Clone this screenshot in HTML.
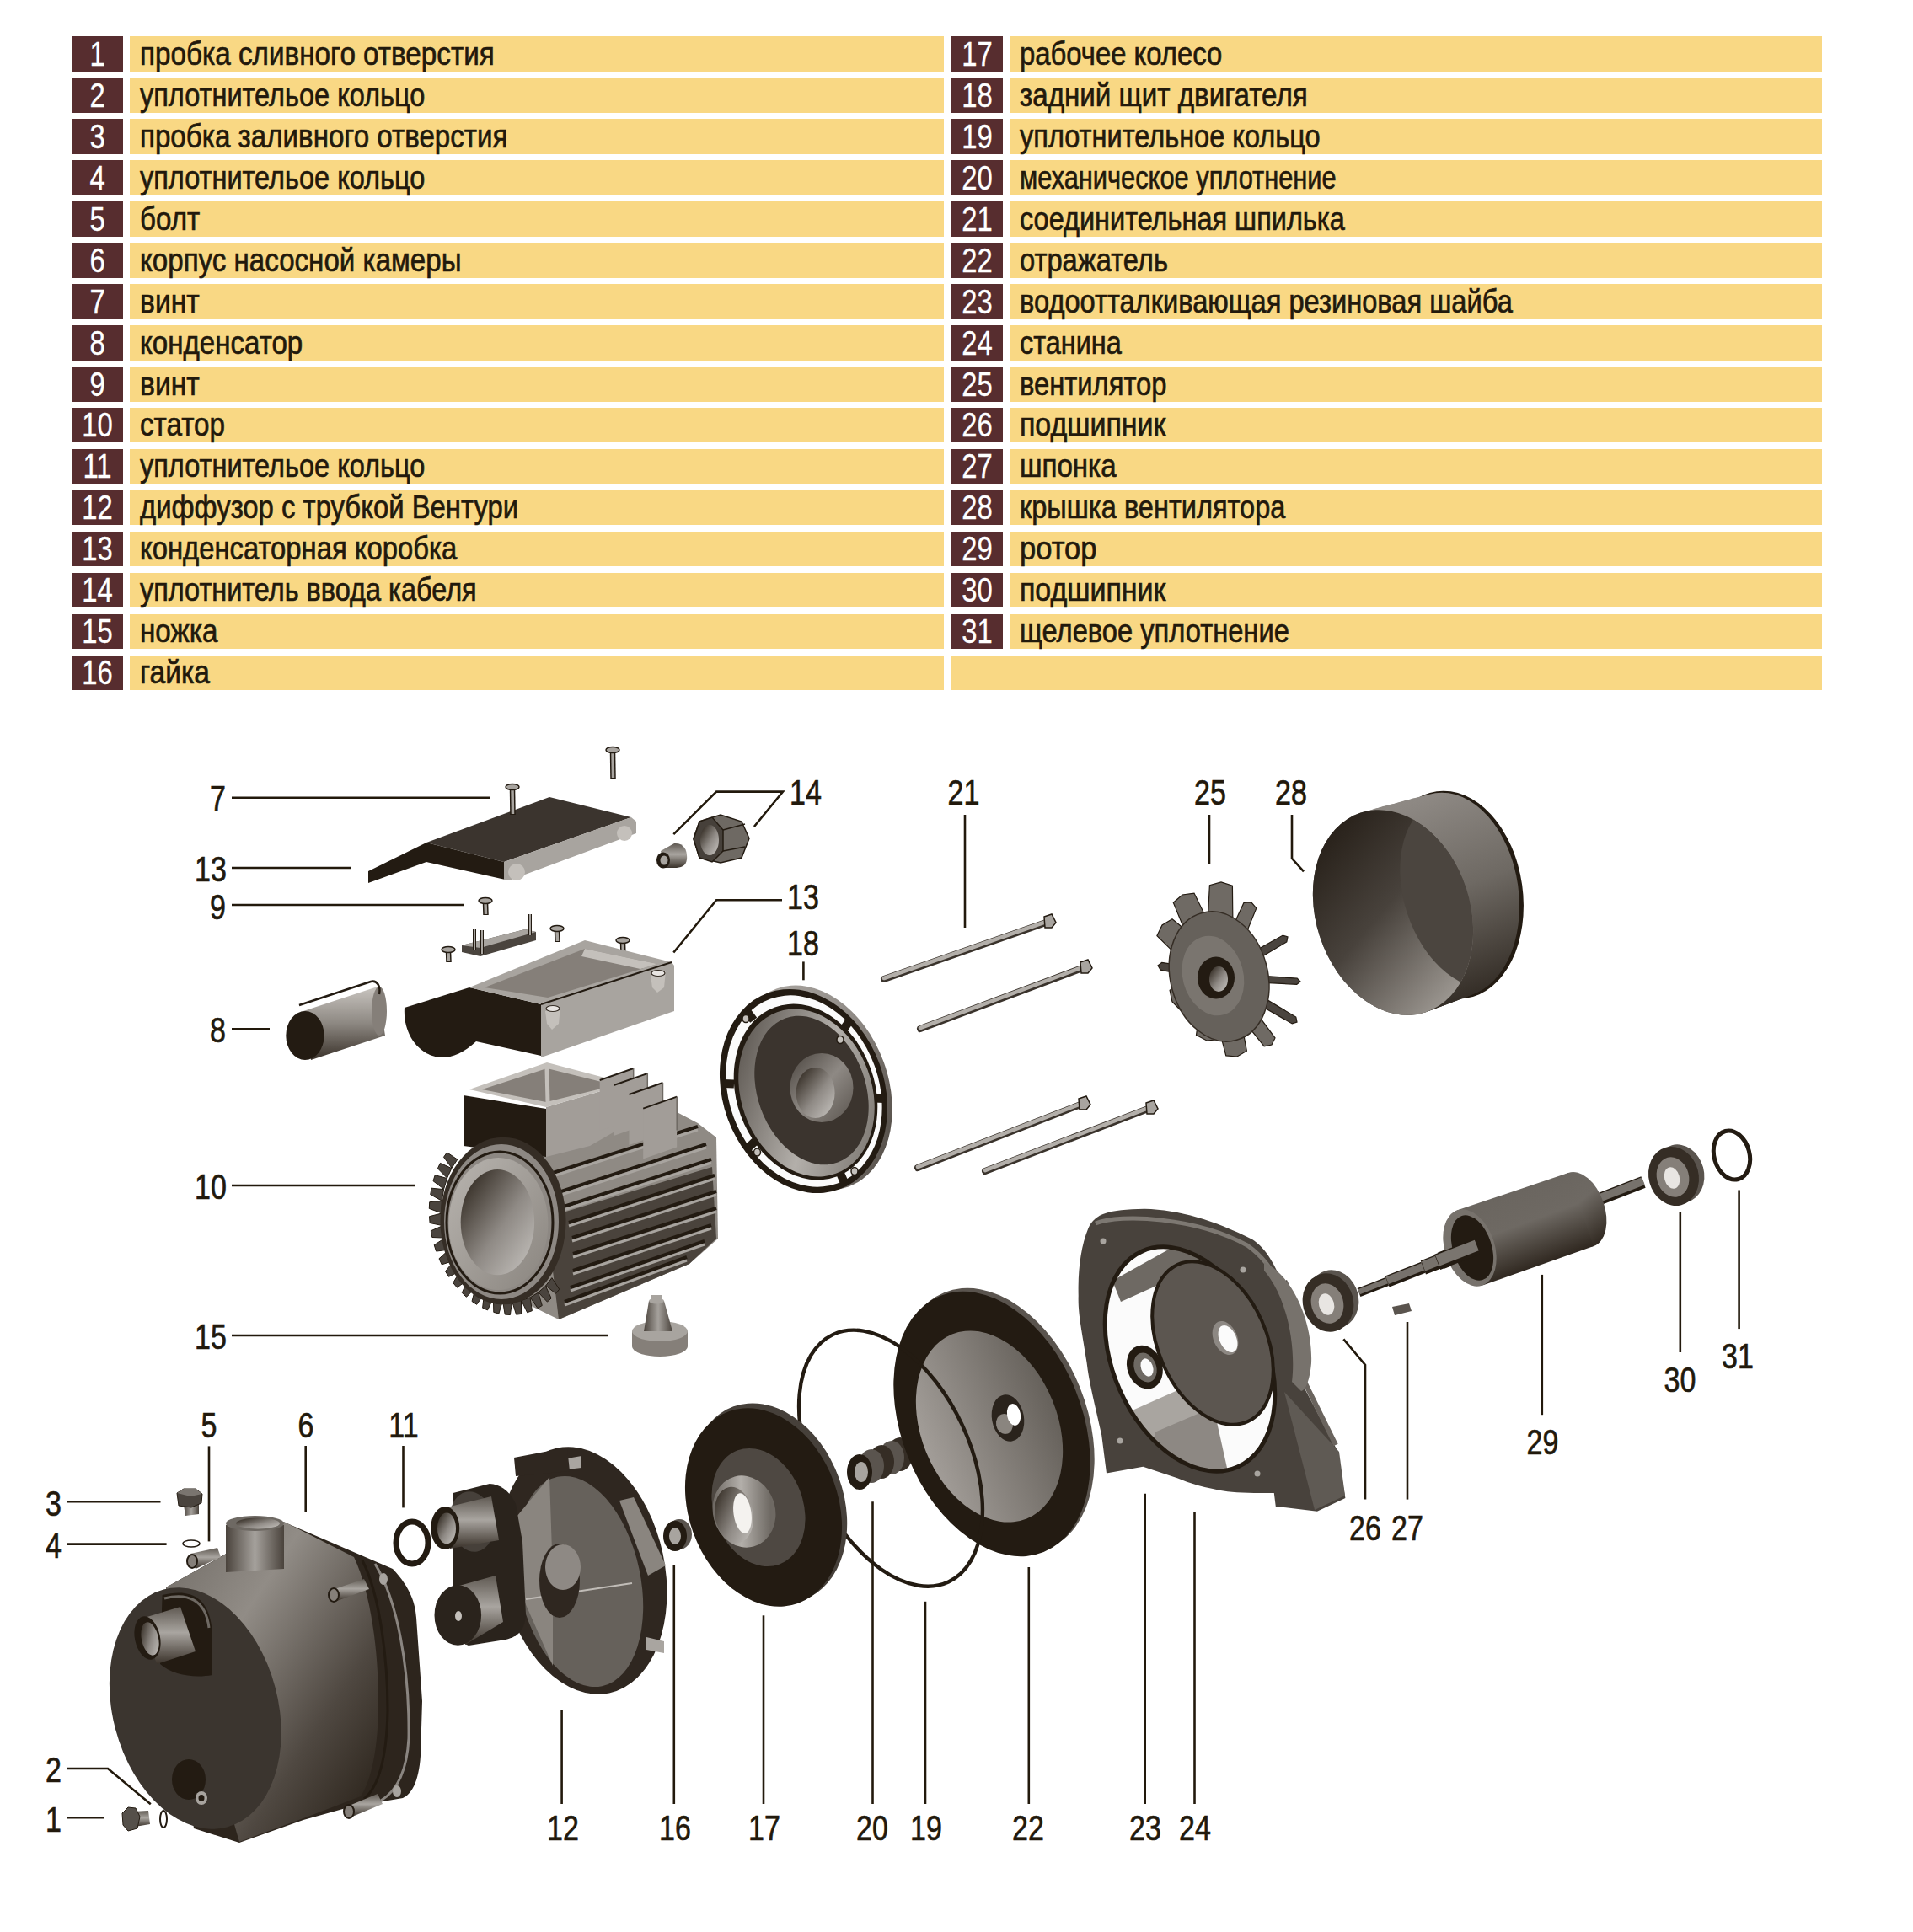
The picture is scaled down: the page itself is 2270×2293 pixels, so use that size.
<!DOCTYPE html>
<html><head><meta charset="utf-8"><style>
html,body{margin:0;padding:0;background:#fff;}
body{width:2270px;height:2293px;position:relative;overflow:hidden;font-family:"Liberation Sans",sans-serif;}
.nb{position:absolute;width:61px;height:41.5px;background:#572d2f;}
.nb span{position:absolute;left:0;width:61px;top:0.5px;-webkit-text-stroke:0.3px #fff;text-align:center;color:#fff;font-size:40px;line-height:40px;transform:scaleX(0.82);transform-origin:50% 0;}
.yb{position:absolute;height:41.5px;background:#f9d884;}
.yb span{position:absolute;left:11.5px;top:0.5px;color:#22190c;font-size:39px;line-height:40px;white-space:nowrap;transform:scaleX(0.845);transform-origin:0 0;-webkit-text-stroke:0.7px #22190c;}
svg{position:absolute;left:0;top:0;}
</style></head><body>
<div class="nb" style="left:85px;top:43.2px"><span>1</span></div>
<div class="yb" style="left:154px;width:966px;top:43.2px"><span style="transform:scaleX(0.852)">пробка сливного отверстия</span></div>
<div class="nb" style="left:1129px;top:43.2px"><span>17</span></div>
<div class="yb" style="left:1198px;width:964px;top:43.2px"><span style="transform:scaleX(0.8418)">рабочее колесо</span></div>
<div class="nb" style="left:85px;top:92.2px"><span>2</span></div>
<div class="yb" style="left:154px;width:966px;top:92.2px"><span style="transform:scaleX(0.8334)">уплотнительое кольцо</span></div>
<div class="nb" style="left:1129px;top:92.2px"><span>18</span></div>
<div class="yb" style="left:1198px;width:964px;top:92.2px"><span style="transform:scaleX(0.85)">задний щит двигателя</span></div>
<div class="nb" style="left:85px;top:141.1px"><span>3</span></div>
<div class="yb" style="left:154px;width:966px;top:141.1px"><span style="transform:scaleX(0.8493)">пробка заливного отверстия</span></div>
<div class="nb" style="left:1129px;top:141.1px"><span>19</span></div>
<div class="yb" style="left:1198px;width:964px;top:141.1px"><span style="transform:scaleX(0.8342)">уплотнительное кольцо</span></div>
<div class="nb" style="left:85px;top:190.1px"><span>4</span></div>
<div class="yb" style="left:154px;width:966px;top:190.1px"><span style="transform:scaleX(0.8334)">уплотнительое кольцо</span></div>
<div class="nb" style="left:1129px;top:190.1px"><span>20</span></div>
<div class="yb" style="left:1198px;width:964px;top:190.1px"><span style="transform:scaleX(0.7898)">механическое уплотнение</span></div>
<div class="nb" style="left:85px;top:239.1px"><span>5</span></div>
<div class="yb" style="left:154px;width:966px;top:239.1px"><span style="transform:scaleX(0.85)">болт</span></div>
<div class="nb" style="left:1129px;top:239.1px"><span>21</span></div>
<div class="yb" style="left:1198px;width:964px;top:239.1px"><span style="transform:scaleX(0.8326)">соединительная шпилька</span></div>
<div class="nb" style="left:85px;top:288.1px"><span>6</span></div>
<div class="yb" style="left:154px;width:966px;top:288.1px"><span style="transform:scaleX(0.8488)">корпус насосной камеры</span></div>
<div class="nb" style="left:1129px;top:288.1px"><span>22</span></div>
<div class="yb" style="left:1198px;width:964px;top:288.1px"><span style="transform:scaleX(0.8382)">отражатель</span></div>
<div class="nb" style="left:85px;top:337.0px"><span>7</span></div>
<div class="yb" style="left:154px;width:966px;top:337.0px"><span style="transform:scaleX(0.8642)">винт</span></div>
<div class="nb" style="left:1129px;top:337.0px"><span>23</span></div>
<div class="yb" style="left:1198px;width:964px;top:337.0px"><span style="transform:scaleX(0.8364)">водоотталкивающая резиновая шайба</span></div>
<div class="nb" style="left:85px;top:386.0px"><span>8</span></div>
<div class="yb" style="left:154px;width:966px;top:386.0px"><span style="transform:scaleX(0.8481)">конденсатор</span></div>
<div class="nb" style="left:1129px;top:386.0px"><span>24</span></div>
<div class="yb" style="left:1198px;width:964px;top:386.0px"><span style="transform:scaleX(0.8324)">станина</span></div>
<div class="nb" style="left:85px;top:435.0px"><span>9</span></div>
<div class="yb" style="left:154px;width:966px;top:435.0px"><span style="transform:scaleX(0.8642)">винт</span></div>
<div class="nb" style="left:1129px;top:435.0px"><span>25</span></div>
<div class="yb" style="left:1198px;width:964px;top:435.0px"><span style="transform:scaleX(0.8396)">вентилятор</span></div>
<div class="nb" style="left:85px;top:483.9px"><span>10</span></div>
<div class="yb" style="left:154px;width:966px;top:483.9px"><span style="transform:scaleX(0.8511)">статор</span></div>
<div class="nb" style="left:1129px;top:483.9px"><span>26</span></div>
<div class="yb" style="left:1198px;width:964px;top:483.9px"><span style="transform:scaleX(0.8699)">подшипник</span></div>
<div class="nb" style="left:85px;top:532.9px"><span>11</span></div>
<div class="yb" style="left:154px;width:966px;top:532.9px"><span style="transform:scaleX(0.8334)">уплотнительое кольцо</span></div>
<div class="nb" style="left:1129px;top:532.9px"><span>27</span></div>
<div class="yb" style="left:1198px;width:964px;top:532.9px"><span style="transform:scaleX(0.848)">шпонка</span></div>
<div class="nb" style="left:85px;top:581.9px"><span>12</span></div>
<div class="yb" style="left:154px;width:966px;top:581.9px"><span style="transform:scaleX(0.8425)">диффузор с трубкой Вентури</span></div>
<div class="nb" style="left:1129px;top:581.9px"><span>28</span></div>
<div class="yb" style="left:1198px;width:964px;top:581.9px"><span style="transform:scaleX(0.8343)">крышка вентилятора</span></div>
<div class="nb" style="left:85px;top:630.8px"><span>13</span></div>
<div class="yb" style="left:154px;width:966px;top:630.8px"><span style="transform:scaleX(0.8409)">конденсаторная коробка</span></div>
<div class="nb" style="left:1129px;top:630.8px"><span>29</span></div>
<div class="yb" style="left:1198px;width:964px;top:630.8px"><span style="transform:scaleX(0.8857)">ротор</span></div>
<div class="nb" style="left:85px;top:679.8px"><span>14</span></div>
<div class="yb" style="left:154px;width:966px;top:679.8px"><span style="transform:scaleX(0.8318)">уплотнитель ввода кабеля</span></div>
<div class="nb" style="left:1129px;top:679.8px"><span>30</span></div>
<div class="yb" style="left:1198px;width:964px;top:679.8px"><span style="transform:scaleX(0.8699)">подшипник</span></div>
<div class="nb" style="left:85px;top:728.8px"><span>15</span></div>
<div class="yb" style="left:154px;width:966px;top:728.8px"><span style="transform:scaleX(0.8516)">ножка</span></div>
<div class="nb" style="left:1129px;top:728.8px"><span>31</span></div>
<div class="yb" style="left:1198px;width:964px;top:728.8px"><span style="transform:scaleX(0.8378)">щелевое уплотнение</span></div>
<div class="nb" style="left:85px;top:777.8px"><span>16</span></div>
<div class="yb" style="left:154px;width:966px;top:777.8px"><span style="transform:scaleX(0.861)">гайка</span></div>
<div class="yb" style="left:1129px;width:1033px;top:777.8px"></div>
<svg width="2270" height="2293" viewBox="0 0 2270 2293"><defs>
<linearGradient id="gBody" x1="0" y1="0" x2="1" y2="1">
<stop offset="0" stop-color="#6f6a64"/><stop offset="0.33" stop-color="#918c86"/><stop offset="0.68" stop-color="#4f4841"/><stop offset="1" stop-color="#231b12"/>
</linearGradient>
<linearGradient id="gTube" x1="0" y1="0" x2="0" y2="1">
<stop offset="0" stop-color="#5f5952"/><stop offset="0.45" stop-color="#a9a5a0"/><stop offset="1" stop-color="#3a322a"/>
</linearGradient>
<linearGradient id="gTubeV" x1="0" y1="0" x2="1" y2="0">
<stop offset="0" stop-color="#4a433c"/><stop offset="0.5" stop-color="#a5a19c"/><stop offset="1" stop-color="#4a433c"/>
</linearGradient>
<linearGradient id="gBore" x1="0" y1="0" x2="1" y2="1">
<stop offset="0" stop-color="#231b12"/><stop offset="0.55" stop-color="#8f8a85"/><stop offset="1" stop-color="#c9c6c2"/>
</linearGradient>
<linearGradient id="gLight" x1="0" y1="0" x2="1" y2="1">
<stop offset="0" stop-color="#b8b4af"/><stop offset="1" stop-color="#8a857f"/>
</linearGradient>
<linearGradient id="gCap" x1="0" y1="0" x2="0" y2="1">
<stop offset="0" stop-color="#c9c5c0"/><stop offset="0.5" stop-color="#8d8882"/><stop offset="1" stop-color="#3a322a"/>
</linearGradient>
<linearGradient id="gFace" x1="0" y1="0" x2="1" y2="1">
<stop offset="0" stop-color="#4a443e"/><stop offset="0.5" stop-color="#8e8984"/><stop offset="1" stop-color="#5a544e"/>
</linearGradient>
<linearGradient id="gDisc" x1="0" y1="0" x2="1" y2="0">
<stop offset="0" stop-color="#a29d98"/><stop offset="1" stop-color="#66615b"/>
</linearGradient>
<linearGradient id="gCover" x1="0" y1="0" x2="1" y2="0">
<stop offset="0" stop-color="#2d251d"/><stop offset="0.5" stop-color="#58524b"/><stop offset="1" stop-color="#6f6a64"/>
</linearGradient>
<linearGradient id="gRotor" x1="0" y1="0" x2="0" y2="1">
<stop offset="0" stop-color="#55504a"/><stop offset="0.4" stop-color="#6e6963"/><stop offset="1" stop-color="#2d251d"/>
</linearGradient>
<linearGradient id="gBand" gradientUnits="userSpaceOnUse" x1="1700" y1="940" x2="1760" y2="1200">
<stop offset="0" stop-color="#8f8a85"/><stop offset="0.45" stop-color="#6e6963"/><stop offset="1" stop-color="#2a231c"/>
</linearGradient>
<linearGradient id="gOpen" x1="0.2" y1="0.1" x2="0.6" y2="1">
<stop offset="0" stop-color="#2a231c"/><stop offset="0.45" stop-color="#48423c"/><stop offset="1" stop-color="#9a958f"/>
</linearGradient>
<linearGradient id="gRim" x1="0" y1="0" x2="1" y2="1">
<stop offset="0" stop-color="#b9b5b0"/><stop offset="0.6" stop-color="#8f8a85"/><stop offset="1" stop-color="#3a332c"/>
</linearGradient>
<linearGradient id="gShield" x1="0" y1="0" x2="1" y2="1">
<stop offset="0" stop-color="#4a443e"/><stop offset="0.55" stop-color="#b3afaa"/><stop offset="1" stop-color="#6e6963"/>
</linearGradient>
<linearGradient id="gHub" x1="0" y1="0" x2="1" y2="0.3">
<stop offset="0" stop-color="#5a544e"/><stop offset="0.55" stop-color="#b3afaa"/><stop offset="1" stop-color="#6e6963"/>
</linearGradient>
<linearGradient id="gRotorU" gradientUnits="userSpaceOnUse" x1="1790" y1="1410" x2="1825" y2="1505">
<stop offset="0" stop-color="#6a655f"/><stop offset="0.45" stop-color="#6e6963"/><stop offset="1" stop-color="#2d251d"/>
</linearGradient>
</defs>

<polygon points="437.0,1034.0 506.0,1000.0 506.0,1023.0 437.0,1048.0" fill="#231b12" />
<polygon points="506.0,1000.0 652.0,946.0 749.0,970.0 598.0,1023.0" fill="#3b342e" />
<polygon points="506.0,1000.0 598.0,1023.0 604.0,1045.0 506.0,1023.0" fill="#231b12" />
<polygon points="598.0,1023.0 749.0,970.0 755.0,975.0 755.0,989.0 604.0,1045.0 598.0,1045.0" fill="#a8a49f" />
<ellipse cx="613" cy="1035" rx="10" ry="10" fill="#c4c0bb" />
<ellipse cx="741" cy="989" rx="9" ry="9" fill="#c4c0bb" />
<line x1="608" y1="936" x2="608.5" y2="967" stroke="#231b12" stroke-width="6.5" stroke-linecap="butt"/><line x1="608" y1="936" x2="608.5" y2="966" stroke="#a8a49f" stroke-width="3.5" stroke-linecap="butt"/><ellipse cx="608" cy="934" rx="8" ry="3.5" fill="#a8a49f" stroke="#231b12" stroke-width="1.5"/>
<line x1="727" y1="892" x2="727.5" y2="924" stroke="#231b12" stroke-width="6.5" stroke-linecap="butt"/><line x1="727" y1="892" x2="727.5" y2="923" stroke="#a8a49f" stroke-width="3.5" stroke-linecap="butt"/><ellipse cx="727" cy="890" rx="8" ry="3.5" fill="#a8a49f" stroke="#231b12" stroke-width="1.5"/>
<path d="M 784,1010 L 800,1001 C 812,1000 816,1010 815,1020 C 814,1028 808,1030 800,1030 L 786,1030 Z" fill="url(#gTube)"/>
<ellipse cx="787" cy="1021" rx="8" ry="9.5" fill="#231b12" />
<ellipse cx="788" cy="1021" rx="4.5" ry="5.5" fill="#a8a49f" />
<polygon points="830.0,975.0 855.0,967.0 880.0,975.0 889.0,995.0 880.0,1018.0 855.0,1024.0 830.0,1018.0 823.0,995.0" fill="#6e6963" stroke="#231b12" stroke-width="1.5"/>
<polygon points="830.0,975.0 845.0,970.0 858.0,985.0 858.0,1010.0 845.0,1023.0 830.0,1018.0 823.0,996.0" fill="#46403a" stroke="#231b12" stroke-width="1.5"/>
<ellipse cx="842" cy="997" rx="11" ry="18" fill="url(#gBore)" />
<line x1="858" y1="985" x2="884" y2="978" stroke="#231b12" stroke-width="1.5" stroke-linecap="butt"/>
<line x1="858" y1="1010" x2="884" y2="1005" stroke="#231b12" stroke-width="1.5" stroke-linecap="butt"/>
<polygon points="548.0,1122.0 623.0,1103.0 636.0,1106.0 636.0,1116.0 570.0,1135.0 548.0,1130.0" fill="#4a443e" />
<polygon points="548.0,1122.0 623.0,1103.0 636.0,1106.0 570.0,1125.0" fill="#a8a49f" />
<line x1="563" y1="1102" x2="563" y2="1128" stroke="#231b12" stroke-width="4" stroke-linecap="butt"/><line x1="563" y1="1102" x2="563" y2="1128" stroke="#a8a49f" stroke-width="2" stroke-linecap="butt"/>
<line x1="572" y1="1104" x2="572" y2="1132" stroke="#231b12" stroke-width="4" stroke-linecap="butt"/><line x1="572" y1="1104" x2="572" y2="1132" stroke="#a8a49f" stroke-width="2" stroke-linecap="butt"/>
<line x1="629" y1="1085" x2="629" y2="1110" stroke="#231b12" stroke-width="4" stroke-linecap="butt"/><line x1="629" y1="1085" x2="629" y2="1110" stroke="#a8a49f" stroke-width="2" stroke-linecap="butt"/>
<line x1="576" y1="1071" x2="576.5" y2="1086" stroke="#231b12" stroke-width="6.5" stroke-linecap="butt"/><line x1="576" y1="1071" x2="576.5" y2="1085" stroke="#a8a49f" stroke-width="3.5" stroke-linecap="butt"/><ellipse cx="576" cy="1069" rx="8" ry="3.5" fill="#a8a49f" stroke="#231b12" stroke-width="1.5"/>
<line x1="532" y1="1129" x2="532.5" y2="1142" stroke="#231b12" stroke-width="6.5" stroke-linecap="butt"/><line x1="532" y1="1129" x2="532.5" y2="1141" stroke="#a8a49f" stroke-width="3.5" stroke-linecap="butt"/><ellipse cx="532" cy="1127" rx="8" ry="3.5" fill="#a8a49f" stroke="#231b12" stroke-width="1.5"/>
<line x1="661" y1="1104" x2="661.5" y2="1118" stroke="#231b12" stroke-width="6.5" stroke-linecap="butt"/><line x1="661" y1="1104" x2="661.5" y2="1117" stroke="#a8a49f" stroke-width="3.5" stroke-linecap="butt"/><ellipse cx="661" cy="1102" rx="8" ry="3.5" fill="#a8a49f" stroke="#231b12" stroke-width="1.5"/>
<line x1="739" y1="1118" x2="739.5" y2="1134" stroke="#231b12" stroke-width="6.5" stroke-linecap="butt"/><line x1="739" y1="1118" x2="739.5" y2="1133" stroke="#a8a49f" stroke-width="3.5" stroke-linecap="butt"/><ellipse cx="739" cy="1116" rx="8" ry="3.5" fill="#a8a49f" stroke="#231b12" stroke-width="1.5"/>
<polygon points="357.0,1201.0 448.0,1171.0 457.0,1229.0 369.0,1258.0" fill="url(#gCap)" />
<ellipse cx="450" cy="1200" rx="9" ry="29" fill="#857f79" />
<ellipse cx="362" cy="1229" rx="22.7" ry="29" fill="#231b12" />
<path d="M 355,1193 L 440,1165 C 447,1163 452,1170 450,1180" fill="none" stroke="#231b12" stroke-width="2.5"/>
<path d="M 480,1196 L 557,1172 L 642,1192 L 642,1253 L 565,1236 C 550,1250 535,1256 522,1255 C 495,1252 478,1225 480,1196 Z" fill="#231b12"/>
<polygon points="557.0,1172.0 694.0,1116.0 797.0,1142.0 642.0,1192.0" fill="#a8a49f" />
<polygon points="575.0,1172.0 694.0,1126.0 780.0,1144.0 650.0,1184.0" fill="#857f79" />
<polygon points="694.0,1126.0 780.0,1144.0 760.0,1150.0 690.0,1135.0" fill="#c4c0bb" />
<polygon points="642.0,1192.0 797.0,1142.0 800.0,1146.0 800.0,1200.0 642.0,1255.0" fill="#a8a49f" />
<line x1="642" y1="1192" x2="797" y2="1142" stroke="#231b12" stroke-width="2" stroke-linecap="butt"/>
<polygon points="647.0,1200.0 665.0,1194.0 663.0,1215.0 655.0,1222.0 649.0,1215.0" fill="#c4c0bb" />
<ellipse cx="656" cy="1197" rx="8" ry="3.5" fill="#e8e5e2" stroke="#352d25" stroke-width="1.2"/>
<polygon points="772.0,1158.0 790.0,1152.0 788.0,1172.0 780.0,1178.0 774.0,1172.0" fill="#c4c0bb" />
<ellipse cx="781" cy="1155" rx="8" ry="3.5" fill="#e8e5e2" stroke="#352d25" stroke-width="1.2"/>
<polygon points="640.0,1330.0 750.0,1292.0 828.0,1333.0 850.0,1350.0 852.0,1470.0 818.0,1500.0 663.0,1566.0 610.0,1540.0" fill="#8f8a84" />
<polygon points="665.0,1440.0 845.0,1385.0 850.0,1470.0 818.0,1500.0 663.0,1566.0 655.0,1500.0" fill="#4a433c" />
<line x1="653" y1="1393" x2="828" y2="1337" stroke="#231b12" stroke-width="4" stroke-linecap="butt"/>
<line x1="653" y1="1397" x2="828" y2="1341" stroke="#a8a49f" stroke-width="3" stroke-linecap="butt"/>
<line x1="663" y1="1415" x2="838" y2="1358" stroke="#231b12" stroke-width="4" stroke-linecap="butt"/>
<line x1="663" y1="1419" x2="838" y2="1362" stroke="#a8a49f" stroke-width="3" stroke-linecap="butt"/>
<line x1="669" y1="1432" x2="844" y2="1376" stroke="#231b12" stroke-width="4" stroke-linecap="butt"/>
<line x1="669" y1="1436" x2="844" y2="1380" stroke="#a8a49f" stroke-width="3" stroke-linecap="butt"/>
<line x1="675" y1="1451" x2="848" y2="1395" stroke="#231b12" stroke-width="4" stroke-linecap="butt"/>
<line x1="675" y1="1455" x2="848" y2="1399" stroke="#a8a49f" stroke-width="3" stroke-linecap="butt"/>
<line x1="679" y1="1469" x2="850" y2="1414" stroke="#231b12" stroke-width="4" stroke-linecap="butt"/>
<line x1="679" y1="1473" x2="850" y2="1418" stroke="#a8a49f" stroke-width="3" stroke-linecap="butt"/>
<line x1="680" y1="1488" x2="850" y2="1434" stroke="#231b12" stroke-width="4" stroke-linecap="butt"/>
<line x1="680" y1="1492" x2="850" y2="1438" stroke="#a8a49f" stroke-width="3" stroke-linecap="butt"/>
<line x1="680" y1="1508" x2="844" y2="1454" stroke="#231b12" stroke-width="4" stroke-linecap="butt"/>
<line x1="680" y1="1512" x2="844" y2="1458" stroke="#a8a49f" stroke-width="3" stroke-linecap="butt"/>
<line x1="677" y1="1528" x2="836" y2="1473" stroke="#231b12" stroke-width="4" stroke-linecap="butt"/>
<line x1="677" y1="1532" x2="836" y2="1477" stroke="#a8a49f" stroke-width="3" stroke-linecap="butt"/>
<line x1="670" y1="1545" x2="815" y2="1492" stroke="#231b12" stroke-width="4" stroke-linecap="butt"/>
<line x1="670" y1="1549" x2="815" y2="1496" stroke="#a8a49f" stroke-width="3" stroke-linecap="butt"/>
<polygon points="550.0,1300.0 648.0,1316.0 648.0,1373.0 550.0,1360.0" fill="#231b12" />
<polygon points="648.0,1314.0 744.0,1286.0 752.0,1290.0 752.0,1330.0 700.0,1360.0 648.0,1373.0" fill="#a29d98" />
<polygon points="557.0,1293.0 649.0,1261.0 744.0,1286.0 648.0,1314.0" fill="#c4c0bb" />
<polygon points="572.0,1293.0 649.0,1268.0 730.0,1288.0 648.0,1308.0" fill="#857f79" />
<line x1="649" y1="1268" x2="650" y2="1308" stroke="#c4c0bb" stroke-width="5" stroke-linecap="butt"/>
<polygon points="711.7,1282.0 751.7,1268.0 751.7,1328.0 711.7,1342.0" fill="#a29d98" />
<line x1="711.7" y1="1282" x2="751.7" y2="1268" stroke="#231b12" stroke-width="2" stroke-linecap="butt"/>
<line x1="751.7" y1="1268" x2="751.7" y2="1308" stroke="#6e6963" stroke-width="1.5" stroke-linecap="butt"/>
<polygon points="728.3,1288.0 768.3,1274.0 768.3,1334.0 728.3,1348.0" fill="#a29d98" />
<line x1="728.3" y1="1288" x2="768.3" y2="1274" stroke="#231b12" stroke-width="2" stroke-linecap="butt"/>
<line x1="768.3" y1="1274" x2="768.3" y2="1314" stroke="#6e6963" stroke-width="1.5" stroke-linecap="butt"/>
<polygon points="746.5,1299.0 786.5,1285.0 786.5,1345.0 746.5,1359.0" fill="#a29d98" />
<line x1="746.5" y1="1299" x2="786.5" y2="1285" stroke="#231b12" stroke-width="2" stroke-linecap="butt"/>
<line x1="786.5" y1="1285" x2="786.5" y2="1325" stroke="#6e6963" stroke-width="1.5" stroke-linecap="butt"/>
<polygon points="763.2,1315.6 803.2,1301.6 803.2,1361.6 763.2,1375.6" fill="#a29d98" />
<line x1="763.2" y1="1315.6" x2="803.2" y2="1301.6" stroke="#231b12" stroke-width="2" stroke-linecap="butt"/>
<line x1="803.2" y1="1301.6" x2="803.2" y2="1341.6" stroke="#6e6963" stroke-width="1.5" stroke-linecap="butt"/>
<polygon points="654.9,1516.6 663.7,1530.2 659.5,1535.3 647.6,1526.0" fill="#4a443e" stroke="#231b12" stroke-width="1"/>
<polygon points="647.4,1526.3 654.2,1540.9 649.4,1545.1 638.9,1533.9" fill="#4a443e" stroke="#231b12" stroke-width="1"/>
<polygon points="638.7,1534.1 643.3,1549.5 638.0,1552.6 629.2,1539.8" fill="#4a443e" stroke="#231b12" stroke-width="1"/>
<polygon points="629.0,1539.9 631.4,1555.7 625.6,1557.7 618.8,1543.5" fill="#4a443e" stroke="#231b12" stroke-width="1"/>
<polygon points="618.5,1543.6 618.6,1559.4 612.6,1560.2 607.8,1545.0" fill="#4a443e" stroke="#231b12" stroke-width="1"/>
<polygon points="607.5,1545.0 605.4,1560.5 599.2,1560.1 596.6,1544.3" fill="#4a443e" stroke="#231b12" stroke-width="1"/>
<polygon points="596.3,1544.2 591.9,1559.0 585.8,1557.4 585.4,1541.3" fill="#4a443e" stroke="#231b12" stroke-width="1"/>
<polygon points="585.1,1541.2 578.6,1554.9 572.6,1552.2 574.5,1536.1" fill="#4a443e" stroke="#231b12" stroke-width="1"/>
<polygon points="574.2,1536.0 565.7,1548.3 560.0,1544.5 564.1,1528.9" fill="#4a443e" stroke="#231b12" stroke-width="1"/>
<polygon points="563.8,1528.7 553.5,1539.3 548.3,1534.5 554.4,1519.8" fill="#4a443e" stroke="#231b12" stroke-width="1"/>
<polygon points="554.2,1519.5 542.4,1528.2 537.7,1522.5 545.8,1509.0" fill="#4a443e" stroke="#231b12" stroke-width="1"/>
<polygon points="545.6,1508.7 532.5,1515.3 528.5,1508.9 538.4,1496.8" fill="#4a443e" stroke="#231b12" stroke-width="1"/>
<polygon points="538.2,1496.5 524.2,1500.8 521.0,1493.8 532.4,1483.5" fill="#4a443e" stroke="#231b12" stroke-width="1"/>
<polygon points="532.2,1483.2 517.6,1485.1 515.2,1477.6 527.9,1469.4" fill="#4a443e" stroke="#231b12" stroke-width="1"/>
<polygon points="527.8,1469.1 512.8,1468.5 511.3,1460.8 525.0,1454.8" fill="#4a443e" stroke="#231b12" stroke-width="1"/>
<polygon points="524.9,1454.5 510.1,1451.5 509.5,1443.7 523.8,1440.1" fill="#4a443e" stroke="#231b12" stroke-width="1"/>
<polygon points="523.8,1439.7 509.3,1434.4 509.7,1426.7 524.3,1425.5" fill="#4a443e" stroke="#231b12" stroke-width="1"/>
<polygon points="524.3,1425.2 510.7,1417.7 512.0,1410.2 526.6,1411.6" fill="#4a443e" stroke="#231b12" stroke-width="1"/>
<polygon points="526.6,1411.3 514.0,1401.7 516.2,1394.7 530.5,1398.5" fill="#4a443e" stroke="#231b12" stroke-width="1"/>
<polygon points="530.6,1398.2 519.4,1386.8 522.4,1380.4 535.9,1386.6" fill="#4a443e" stroke="#231b12" stroke-width="1"/>
<polygon points="536.1,1386.3 526.5,1373.3 530.4,1367.8 542.8,1376.1" fill="#4a443e" stroke="#231b12" stroke-width="1"/>
<ellipse cx="597" cy="1449" rx="74.5" ry="99.3" fill="#352d25" />
<ellipse cx="595" cy="1450" rx="68" ry="92" fill="#8d8883" />
<ellipse cx="593" cy="1451" rx="63" ry="84" fill="none" stroke="#231b12" stroke-width="3"/>
<ellipse cx="591.4" cy="1452.6" rx="59" ry="78.5" fill="url(#gLight)" />
<ellipse cx="590.4" cy="1450.6" rx="43.7" ry="62.6" fill="url(#gBore)" />
<ellipse cx="783" cy="1598" rx="33" ry="12" fill="#857f79" />
<polygon points="750.0,1580.0 816.0,1580.0 816.0,1598.0 750.0,1598.0" fill="#857f79" />
<ellipse cx="783" cy="1580" rx="33" ry="12" fill="#a8a49f" />
<polygon points="764.0,1580.0 770.0,1544.0 788.0,1544.0 798.0,1580.0" fill="url(#gTubeV)" />
<ellipse cx="779" cy="1544" rx="9" ry="3.5" fill="#a8a49f" />
<polygon points="773.0,1537.0 786.0,1537.0 786.0,1545.0 773.0,1545.0" fill="#a8a49f" />
<ellipse cx="964" cy="1291" rx="90" ry="125" fill="url(#gRim)" transform="rotate(-20 964 1291)" />
<ellipse cx="953.5" cy="1295" rx="95.8" ry="124" fill="#231b12" transform="rotate(-20 953.5 1295)" />
<ellipse cx="954" cy="1295" rx="89" ry="116.5" fill="#fbfbfb" transform="rotate(-20 954 1295)" />
<g stroke="#231b12" stroke-width="10">
<line x1="894.2" y1="1210.8" x2="885.9" y2="1199.8"/>
<line x1="1001.0" y1="1221.5" x2="1008.3" y2="1211.4"/>
<line x1="1037.0" y1="1303.4" x2="1049.3" y2="1304.0"/>
<line x1="996.7" y1="1391.8" x2="1002.4" y2="1404.6"/>
<line x1="895.8" y1="1354.8" x2="886.8" y2="1363.1"/>
<line x1="871.0" y1="1286.6" x2="858.7" y2="1286.0"/>
</g>
<ellipse cx="956" cy="1296" rx="82" ry="107" fill="#231b12" transform="rotate(-20 956 1296)" />
<ellipse cx="957" cy="1297" rx="77.5" ry="102" fill="url(#gShield)" transform="rotate(-20 957 1297)" />
<ellipse cx="963" cy="1294" rx="64" ry="91" fill="#3b342e" transform="rotate(-20 963 1294)" />
<ellipse cx="975" cy="1291" rx="37.5" ry="41" fill="url(#gFace)" />
<ellipse cx="967.6" cy="1297" rx="23" ry="30" fill="url(#gBore)" />
<ellipse cx="885" cy="1209" rx="4" ry="4.5" fill="#c4c0bb" stroke="#231b12" stroke-width="1.5"/>
<ellipse cx="997" cy="1234" rx="4" ry="4.5" fill="#c4c0bb" stroke="#231b12" stroke-width="1.5"/>
<ellipse cx="898.5" cy="1367.6" rx="4" ry="4.5" fill="#c4c0bb" stroke="#231b12" stroke-width="1.5"/>
<ellipse cx="1014" cy="1390" rx="4" ry="4.5" fill="#c4c0bb" stroke="#231b12" stroke-width="1.5"/>
<line x1="1049" y1="1162" x2="1244" y2="1094" stroke="#3a332c" stroke-width="8" stroke-linecap="round"/>
<line x1="1049" y1="1161" x2="1244" y2="1093" stroke="#b3afaa" stroke-width="4.6" stroke-linecap="round"/>
<polygon points="1239.0,1088.0 1248.0,1085.0 1253.0,1095.0 1248.0,1101.0 1240.0,1101.0" fill="#a8a49f" stroke="#231b12" stroke-width="1.5"/>
<line x1="1092" y1="1221" x2="1287" y2="1148" stroke="#3a332c" stroke-width="8" stroke-linecap="round"/>
<line x1="1092" y1="1220" x2="1287" y2="1147" stroke="#b3afaa" stroke-width="4.6" stroke-linecap="round"/>
<polygon points="1282.0,1142.0 1291.0,1139.0 1296.0,1149.0 1291.0,1155.0 1283.0,1155.0" fill="#a8a49f" stroke="#231b12" stroke-width="1.5"/>
<line x1="1089" y1="1386" x2="1285" y2="1310" stroke="#3a332c" stroke-width="8" stroke-linecap="round"/>
<line x1="1089" y1="1385" x2="1285" y2="1309" stroke="#b3afaa" stroke-width="4.6" stroke-linecap="round"/>
<polygon points="1280.0,1304.0 1289.0,1301.0 1294.0,1311.0 1289.0,1317.0 1281.0,1317.0" fill="#a8a49f" stroke="#231b12" stroke-width="1.5"/>
<line x1="1169" y1="1390" x2="1365" y2="1315" stroke="#3a332c" stroke-width="8" stroke-linecap="round"/>
<line x1="1169" y1="1389" x2="1365" y2="1314" stroke="#b3afaa" stroke-width="4.6" stroke-linecap="round"/>
<polygon points="1360.0,1309.0 1369.0,1306.0 1374.0,1316.0 1369.0,1322.0 1361.0,1322.0" fill="#a8a49f" stroke="#231b12" stroke-width="1.5"/>
<polygon points="1462.9,1097.7 1462.4,1051.3 1449.0,1047.0 1435.4,1050.7 1432.9,1097.1" fill="#6f6a64" stroke="#231b12" stroke-width="1.2"/>
<polygon points="1476.0,1114.2 1490.8,1077.9 1485.0,1071.0 1476.0,1071.4 1459.5,1107.0" fill="#6f6a64" stroke="#231b12" stroke-width="1.2"/>
<polygon points="1493.9,1137.5 1526.8,1117.9 1528.0,1112.0 1522.3,1110.1 1488.9,1128.8" fill="#4a443e" stroke="#231b12" stroke-width="1.2"/>
<polygon points="1499.4,1166.3 1538.8,1168.3 1543.0,1165.0 1539.2,1161.2 1499.9,1158.3" fill="#4a443e" stroke="#231b12" stroke-width="1.2"/>
<polygon points="1494.9,1193.0 1533.3,1214.9 1539.0,1213.0 1537.8,1207.1 1499.9,1184.4" fill="#4a443e" stroke="#231b12" stroke-width="1.2"/>
<polygon points="1473.8,1209.0 1500.1,1241.8 1509.0,1240.0 1513.0,1231.9 1488.0,1198.1" fill="#6f6a64" stroke="#231b12" stroke-width="1.2"/>
<polygon points="1444.7,1214.3 1454.8,1252.9 1468.0,1254.0 1479.4,1247.3 1472.0,1208.2" fill="#6f6a64" stroke="#231b12" stroke-width="1.2"/>
<polygon points="1423.8,1198.0 1419.5,1228.5 1432.0,1235.0 1446.0,1233.6 1453.3,1203.6" fill="#6f6a64" stroke="#231b12" stroke-width="1.2"/>
<polygon points="1408.9,1162.3 1388.1,1175.2 1391.0,1189.0 1400.9,1199.0 1423.1,1188.7" fill="#6f6a64" stroke="#231b12" stroke-width="1.2"/>
<polygon points="1407.6,1146.9 1378.7,1142.3 1374.0,1146.0 1377.1,1151.1 1405.8,1156.8" fill="#4a443e" stroke="#231b12" stroke-width="1.2"/>
<polygon points="1419.5,1114.3 1391.0,1090.7 1379.0,1098.0 1372.9,1110.7 1399.4,1136.6" fill="#6f6a64" stroke="#231b12" stroke-width="1.2"/>
<polygon points="1436.3,1099.5 1417.0,1060.1 1403.0,1062.0 1392.3,1071.2 1408.9,1111.8" fill="#6f6a64" stroke="#231b12" stroke-width="1.2"/>
<ellipse cx="1446.6" cy="1159" rx="57.7" ry="78.2" fill="#66615b" transform="rotate(-15 1446.6 1159)" stroke="#352d25" stroke-width="1.5"/>
<ellipse cx="1439.4" cy="1158" rx="36" ry="48" fill="#7a756f" transform="rotate(-15 1439.4 1158)" />
<ellipse cx="1443" cy="1160.5" rx="22" ry="25" fill="#231b12" />
<ellipse cx="1446" cy="1162" rx="11" ry="15" fill="url(#gBore)" />
<clipPath id="cpOpen"><ellipse cx="1653" cy="1083" rx="91.5" ry="124.5" transform="rotate(-18 1653 1083)"/></clipPath>
<ellipse cx="1722" cy="1062" rx="85" ry="124" fill="#231b12" transform="rotate(-8 1722 1062)" />
<ellipse cx="1653.0" cy="1083.0" rx="91.5" ry="124.5" fill="url(#gBand)" transform="rotate(-18.0 1653.0 1083.0)" />
<ellipse cx="1659.7" cy="1080.9" rx="90.5" ry="124.2" fill="url(#gBand)" transform="rotate(-17.0 1659.7 1080.9)" />
<ellipse cx="1666.4" cy="1078.8" rx="89.6" ry="124.0" fill="url(#gBand)" transform="rotate(-16.0 1666.4 1078.8)" />
<ellipse cx="1673.1" cy="1076.7" rx="88.7" ry="123.8" fill="url(#gBand)" transform="rotate(-15.0 1673.1 1076.7)" />
<ellipse cx="1679.8" cy="1074.6" rx="87.7" ry="123.5" fill="url(#gBand)" transform="rotate(-14.0 1679.8 1074.6)" />
<ellipse cx="1686.5" cy="1072.5" rx="86.8" ry="123.2" fill="url(#gBand)" transform="rotate(-13.0 1686.5 1072.5)" />
<ellipse cx="1693.2" cy="1070.4" rx="85.8" ry="123.0" fill="url(#gBand)" transform="rotate(-12.0 1693.2 1070.4)" />
<ellipse cx="1699.9" cy="1068.3" rx="84.8" ry="122.8" fill="url(#gBand)" transform="rotate(-11.0 1699.9 1068.3)" />
<ellipse cx="1706.6" cy="1066.2" rx="83.9" ry="122.5" fill="url(#gBand)" transform="rotate(-10.0 1706.6 1066.2)" />
<ellipse cx="1713.3" cy="1064.1" rx="83.0" ry="122.2" fill="url(#gBand)" transform="rotate(-9.0 1713.3 1064.1)" />
<ellipse cx="1720.0" cy="1062.0" rx="82.0" ry="122.0" fill="url(#gBand)" transform="rotate(-8.0 1720.0 1062.0)" />
<ellipse cx="1653" cy="1083" rx="91.5" ry="124.5" fill="url(#gOpen)" transform="rotate(-18 1653 1083)" />
<g clip-path="url(#cpOpen)"><ellipse cx="1742" cy="1060" rx="76" ry="116" transform="rotate(-18 1742 1060)" fill="#4b453f"/></g>
<path d="M 336,1806 L 466,1862 C 488,1885 493,1905 494,1920 L 501,2019 L 499,2084 C 497,2115 488,2130 478,2134 L 414,2145 L 360,2160 L 284,2187 L 230,2170 L 197,1884 Z" fill="#2d251d"/>
<path d="M 197,1884 L 337,1806 L 420,1848 C 440,1890 449,1960 449,2019 C 449,2070 442,2110 428,2132 L 360,2158 L 284,2186 Z" fill="url(#gBody)"/>
<path d="M 445,1856 C 472,1900 486,1980 485,2063 C 483,2100 472,2125 452,2137" fill="none" stroke="#8a8580" stroke-width="3"/>
<path d="M 430,1852 C 452,1895 460,1975 460,2030 C 459,2085 450,2120 432,2135" fill="none" stroke="#231b12" stroke-width="3"/>
<ellipse cx="231.8" cy="2027.5" rx="98" ry="146" fill="#3b352f" transform="rotate(-15 231.8 2027.5)" />
<polygon points="268.0,1810.0 337.0,1810.0 337.0,1862.0 268.0,1866.0" fill="url(#gTubeV)" />
<ellipse cx="302.5" cy="1808" rx="34.5" ry="9" fill="#6e6963" />
<ellipse cx="306" cy="1808" rx="26" ry="6.5" fill="url(#gBore)" />
<path d="M 192.6,1893 C 222,1886 246,1892 251,1930 L 252,1988 C 230,1992 205,1988 190,1975 Z" fill="#231b12"/>
<path d="M 195,1897 C 222,1890 244,1898 248,1932" fill="none" stroke="#6e6963" stroke-width="3"/>
<polygon points="168.0,1921.0 214.0,1907.0 232.0,1960.0 186.0,1975.0" fill="url(#gTube)" />
<ellipse cx="175" cy="1944" rx="15" ry="26" fill="#231b12" transform="rotate(-12 175 1944)" />
<ellipse cx="178" cy="1945" rx="10" ry="20" fill="url(#gBore)" transform="rotate(-12 178 1945)" />
<ellipse cx="224" cy="2112" rx="20" ry="24" fill="#231b12" />
<ellipse cx="239" cy="2134" rx="7" ry="8" fill="#a8a49f" />
<ellipse cx="239" cy="2134" rx="3.5" ry="4" fill="#231b12" />
<polygon points="394.0,1887.0 432.0,1874.0 438.0,1886.0 400.0,1900.0" fill="url(#gTube)" />
<ellipse cx="396" cy="1893" rx="6" ry="8" fill="#857f79" stroke="#231b12" stroke-width="2"/>
<polygon points="412.0,2144.0 448.0,2129.0 454.0,2141.0 418.0,2156.0" fill="url(#gTube)" />
<ellipse cx="414" cy="2150" rx="6" ry="8" fill="#857f79" stroke="#231b12" stroke-width="2"/>
<ellipse cx="455" cy="1874" rx="5" ry="7" fill="#a8a49f" />
<ellipse cx="471" cy="2126" rx="5" ry="7" fill="#a8a49f" />
<polygon points="218.0,1786.0 236.0,1785.0 236.0,1797.0 220.0,1799.0" fill="url(#gTubeV)" />
<polygon points="210.0,1772.0 218.0,1767.0 232.0,1767.0 240.0,1773.0 239.0,1784.0 227.0,1789.0 212.0,1787.0" fill="#4a443e" stroke="#231b12" stroke-width="1"/>
<polygon points="210.0,1772.0 218.0,1767.0 232.0,1767.0 240.0,1773.0 226.0,1776.0" fill="#7a756f" />
<ellipse cx="227" cy="1832" rx="10" ry="4" fill="none" stroke="#231b12" stroke-width="1.5"/>
<polygon points="226.0,1844.0 258.0,1837.0 262.0,1848.0 232.0,1862.0" fill="url(#gTube)" />
<ellipse cx="228" cy="1853" rx="6" ry="8" fill="#857f79" stroke="#231b12" stroke-width="2"/>
<polygon points="158.0,2150.0 176.0,2149.0 178.0,2165.0 160.0,2168.0" fill="url(#gTube)" />
<polygon points="145.0,2152.0 152.0,2145.0 161.0,2146.0 166.0,2156.0 163.0,2170.0 152.0,2173.0 146.0,2166.0" fill="#55504a" stroke="#231b12" stroke-width="1"/>
<ellipse cx="194" cy="2159" rx="4" ry="10" fill="none" stroke="#231b12" stroke-width="2"/>
<ellipse cx="489" cy="1831" rx="19" ry="25" fill="none" stroke="#231b12" stroke-width="7"/>
<ellipse cx="692" cy="1864" rx="96.7" ry="148.7" fill="#2f2720" transform="rotate(-12 692 1864)" />
<polygon points="735.0,1781.0 752.0,1777.0 790.0,1858.0 769.0,1870.0" fill="#8a857f" />
<polygon points="767.0,1943.0 788.0,1948.0 788.0,1962.0 767.0,1958.0" fill="#a9a5a0" />
<polygon points="673.0,1731.0 690.0,1728.0 690.0,1742.0 673.0,1744.0" fill="#a9a5a0" />
<polygon points="610.0,1730.0 673.0,1718.0 676.0,1746.0 612.0,1752.0" fill="#2f2720" />
<ellipse cx="688" cy="1877" rx="72" ry="127" fill="#66615b" transform="rotate(-12 688 1877)" />
<polygon points="613.0,1800.0 652.0,1753.0 656.0,1870.0 656.0,1977.0 622.0,1900.0" fill="#8a857f" />
<line x1="624" y1="1898" x2="750" y2="1879" stroke="#c0bcb7" stroke-width="2.2" stroke-linecap="butt"/>
<ellipse cx="664" cy="1876" rx="24" ry="44" fill="#2f2720" />
<ellipse cx="668" cy="1860" rx="21" ry="27" fill="#8e8984" />
<path d="M 537.6,1772 L 581,1761 C 595,1762 605,1770 612,1785 L 620,1830 L 624,1917 C 622,1935 616,1942 600,1946 L 556,1953 L 537.6,1945 Z" fill="#2a231c"/>
<ellipse cx="560" cy="1806" rx="26" ry="36" fill="#46403a" transform="rotate(-10 560 1806)" />
<polygon points="530.0,1789.0 583.0,1776.0 592.0,1828.0 534.0,1838.0" fill="url(#gTube)" />
<ellipse cx="528.2" cy="1813.5" rx="17" ry="25.4" fill="#231b12" />
<ellipse cx="530" cy="1814" rx="11" ry="18.5" fill="url(#gBore)" />
<polygon points="545.0,1882.0 588.0,1870.0 597.0,1925.0 552.0,1952.0" fill="url(#gTube)" />
<ellipse cx="543.3" cy="1917" rx="27.8" ry="35.7" fill="#2a231c" />
<ellipse cx="544" cy="1918" rx="4" ry="6" fill="#c4c0bb" />
<ellipse cx="806" cy="1821" rx="15" ry="18" fill="#5a544e" />
<ellipse cx="801" cy="1823" rx="14" ry="18" fill="#231b12" />
<ellipse cx="801" cy="1823" rx="7" ry="10" fill="#a8a49f" />
<ellipse cx="1068" cy="1726" rx="15" ry="20" fill="#352d25" />
<ellipse cx="1058" cy="1730" rx="15" ry="20" fill="#5a544e" />
<ellipse cx="1046" cy="1735" rx="15" ry="20" fill="#352d25" />
<ellipse cx="1034" cy="1740" rx="15" ry="20" fill="#5a544e" />
<ellipse cx="1020" cy="1747" rx="15" ry="21" fill="#231b12" />
<ellipse cx="1022" cy="1747" rx="8" ry="12" fill="#a8a49f" />
<ellipse cx="1182" cy="1686" rx="107" ry="164" fill="#5a544e" transform="rotate(-22 1182 1686)" />
<ellipse cx="1177" cy="1690" rx="107" ry="164" fill="#231b12" transform="rotate(-22 1177 1690)" />
<ellipse cx="1174" cy="1693" rx="81" ry="118" fill="url(#gDisc)" transform="rotate(-22 1174 1693)" />
<ellipse cx="1196" cy="1683" rx="19" ry="28" fill="#2a231c" transform="rotate(-10 1196 1683)" />
<ellipse cx="1192" cy="1690" rx="10" ry="12" fill="#8a857f" transform="rotate(-10 1192 1690)" />
<ellipse cx="1203" cy="1679" rx="8" ry="13" fill="#ffffff" transform="rotate(-10 1203 1679)" />
<ellipse cx="1057" cy="1730.7" rx="93.5" ry="162" fill="none" transform="rotate(-25 1057 1730.7)" stroke="#231b12" stroke-width="4.4"/>
<ellipse cx="912" cy="1784" rx="88.7" ry="122" fill="#46403a" transform="rotate(-20 912 1784)" />
<ellipse cx="906" cy="1789" rx="88.7" ry="121" fill="#231b12" transform="rotate(-20 906 1789)" />
<ellipse cx="900" cy="1789" rx="53" ry="72" fill="#4e4842" transform="rotate(-20 900 1789)" />
<ellipse cx="883" cy="1794" rx="37" ry="43" fill="url(#gHub)" transform="rotate(-15 883 1794)" />
<ellipse cx="871" cy="1798" rx="22.6" ry="33.5" fill="url(#gBore)" transform="rotate(-10 871 1798)" />
<ellipse cx="881" cy="1796" rx="10.5" ry="24" fill="#f4f2ef" transform="rotate(-8 881 1796)" />
<path d="M 1291.5,1457.4 C 1300,1440 1315,1436 1358,1434.8 C 1400,1436 1440,1448 1486,1471 C 1500,1480 1510,1495 1521.6,1522.3 L 1535.4,1542 C 1548,1565 1556,1595 1555,1616.7 L 1547.2,1646.2 L 1586.6,1721 L 1596.4,1778 L 1563,1793.8 L 1513.8,1787.9 L 1511.8,1772.1 C 1490,1772 1470,1772 1456.7,1770.2 C 1430,1766 1410,1760 1397.7,1754.4 L 1356.4,1740.7 L 1313,1748.5 L 1307.2,1703.3 C 1300,1670 1292,1640 1289.5,1616.7 C 1284,1580 1279,1560 1279.7,1538 C 1279,1510 1282,1480 1291.5,1457.4 Z" fill="#48423c"/>
<path d="M 1300,1452 C 1330,1440 1420,1445 1480,1478 C 1500,1492 1512,1510 1520,1530" fill="none" stroke="#7d7872" stroke-width="5"/>
<path d="M 1535,1550 C 1548,1580 1552,1610 1548,1640 L 1585,1715" fill="none" stroke="#6a645e" stroke-width="6"/>
<clipPath id="cpBr"><ellipse cx="1412" cy="1613" rx="91" ry="140" transform="rotate(-24 1412 1613)"/></clipPath>
<g clip-path="url(#cpBr)"><rect x="1300" y="1450" width="230" height="330" fill="#fbfbfb"/><polygon points="1320,1520 1410,1470 1430,1500 1330,1545" fill="#6e6963"/><polygon points="1330,1680 1420,1640 1440,1690 1350,1740 1320,1750" fill="#a9a5a0"/><polygon points="1370,1700 1440,1670 1460,1760 1380,1770" fill="#8d8883"/><polygon points="1290,1460 1330,1440 1340,1470 1300,1500" fill="#4a443e"/></g>
<ellipse cx="1412" cy="1613" rx="91" ry="140" fill="none" transform="rotate(-24 1412 1613)" stroke="#231b12" stroke-width="5"/>
<ellipse cx="1439" cy="1594" rx="64" ry="102" fill="#5c5650" transform="rotate(-24 1439 1594)" stroke="#231b12" stroke-width="4"/>
<ellipse cx="1454" cy="1588" rx="14" ry="21" fill="#8d8883" transform="rotate(-24 1454 1588)" />
<ellipse cx="1457" cy="1589" rx="10" ry="17" fill="#fbfbfb" transform="rotate(-24 1457 1589)" />
<ellipse cx="1358.4" cy="1622.6" rx="20.7" ry="26.5" fill="#231b12" transform="rotate(-20 1358.4 1622.6)" />
<ellipse cx="1359" cy="1623" rx="13" ry="18" fill="#6e6963" transform="rotate(-20 1359 1623)" />
<ellipse cx="1361" cy="1623" rx="7" ry="11" fill="#fbfbfb" transform="rotate(-20 1361 1623)" />
<ellipse cx="1309" cy="1473" rx="3.5" ry="3.5" fill="#a8a49f" />
<ellipse cx="1475" cy="1507" rx="3.5" ry="3.5" fill="#a8a49f" />
<ellipse cx="1329" cy="1710" rx="3.5" ry="3.5" fill="#a8a49f" />
<ellipse cx="1492" cy="1749" rx="3.5" ry="3.5" fill="#a8a49f" />
<polygon points="1514.0,1525.0 1527.0,1519.0 1532.0,1530.0 1520.0,1535.0" fill="#4a443e" />
<path d="M 1500,1498 C 1535,1515 1558,1570 1556,1618 C 1554,1640 1549,1650 1544,1651 L 1533,1640 C 1538,1600 1528,1540 1500,1508 Z" fill="#77726c"/>
<polygon points="1524.0,1652.0 1589.0,1723.0 1596.0,1775.0 1560.0,1792.0 1544.0,1730.0" fill="#5f5a54" />
<ellipse cx="1582" cy="1542" rx="30" ry="35" fill="#5a544e" transform="rotate(-15 1582 1542)" />
<ellipse cx="1576" cy="1546" rx="30" ry="35" fill="#352d25" transform="rotate(-15 1576 1546)" />
<ellipse cx="1575" cy="1547" rx="19" ry="24" fill="#857f79" transform="rotate(-15 1575 1547)" />
<ellipse cx="1574" cy="1548" rx="9" ry="13" fill="#e8e5e2" transform="rotate(-15 1574 1548)" />
<polygon points="1652.0,1551.0 1672.0,1547.0 1675.0,1556.0 1655.0,1561.0" fill="#5a544e" />
<line x1="1612.5" y1="1534.0" x2="1646.1" y2="1521.0" stroke="#231b12" stroke-width="10.5" stroke-linecap="butt"/>
<line x1="1612.5" y1="1533.2" x2="1646.1" y2="1520.2" stroke="#77726c" stroke-width="6.4" stroke-linecap="butt"/>
<line x1="1646.1" y1="1521.0" x2="1688.9" y2="1504.3" stroke="#231b12" stroke-width="14.0" stroke-linecap="butt"/>
<line x1="1646.1" y1="1519.8" x2="1688.9" y2="1503.2" stroke="#77726c" stroke-width="9.200000000000001" stroke-linecap="butt"/>
<line x1="1688.9" y1="1504.3" x2="1709.5" y2="1496.4" stroke="#231b12" stroke-width="17.5" stroke-linecap="butt"/>
<line x1="1688.9" y1="1502.8" x2="1709.5" y2="1494.9" stroke="#77726c" stroke-width="12.0" stroke-linecap="butt"/>
<line x1="1709.5" y1="1496.4" x2="1752.3" y2="1479.7" stroke="#231b12" stroke-width="20.5" stroke-linecap="butt"/>
<line x1="1709.5" y1="1494.6" x2="1752.3" y2="1477.9" stroke="#77726c" stroke-width="14.4" stroke-linecap="butt"/>
<line x1="1882.8" y1="1429.1" x2="1950.0" y2="1403.0" stroke="#231b12" stroke-width="14.5" stroke-linecap="butt"/>
<line x1="1882.8" y1="1427.9" x2="1950.0" y2="1401.8" stroke="#77726c" stroke-width="9.600000000000001" stroke-linecap="butt"/>
<ellipse cx="1876" cy="1435.5" rx="28" ry="46" fill="url(#gRotorU)" transform="rotate(-19 1876 1435.5)" />
<polygon points="1728.7,1436.5 1861.0,1392.0 1891.0,1479.0 1759.3,1525.5" fill="url(#gRotorU)" />
<ellipse cx="1744" cy="1481" rx="29.6" ry="47" fill="#77726c" transform="rotate(-18 1744 1481)" />
<ellipse cx="1747" cy="1481" rx="23" ry="40" fill="#231b12" transform="rotate(-18 1747 1481)" />
<line x1="1705.7" y1="1497.8" x2="1752.3" y2="1479.7" stroke="#231b12" stroke-width="19.5" stroke-linecap="butt"/>
<line x1="1705.7" y1="1496.1" x2="1752.3" y2="1478.0" stroke="#7a756f" stroke-width="13.600000000000001" stroke-linecap="butt"/>
<ellipse cx="1993" cy="1393" rx="29" ry="35" fill="#5a544e" transform="rotate(-15 1993 1393)" />
<ellipse cx="1986" cy="1396" rx="29.6" ry="35.4" fill="#352d25" transform="rotate(-15 1986 1396)" />
<ellipse cx="1985" cy="1397" rx="19" ry="24" fill="#857f79" transform="rotate(-15 1985 1397)" />
<ellipse cx="1984" cy="1398" rx="9" ry="13" fill="#e8e5e2" transform="rotate(-15 1984 1398)" />
<ellipse cx="2055" cy="1371" rx="21" ry="29.5" fill="none" transform="rotate(-15 2055 1371)" stroke="#231b12" stroke-width="5"/>
<g fill="none" stroke="#22190c" stroke-width="2.6" stroke-linejoin="miter">
<polyline points="275,946.7 581,946.7"/>
<polyline points="275,1030 417,1030"/>
<polyline points="275,1074 550,1074"/>
<polyline points="275,1221.4 320,1221.4"/>
<polyline points="275,1407 493,1407"/>
<polyline points="275,1585 721.5,1585"/>
<polyline points="799.3,990.2 850.1,939.6 929,939.6 894.9,981"/>
<polyline points="799.3,1130.5 850.1,1068.2 928,1068.2"/>
<polyline points="953.4,1141.4 953.4,1163.3"/>
<polyline points="1145,967 1145,1101"/>
<polyline points="1435,967 1435,1026"/>
<polyline points="1533,967 1533,1018.8 1547,1034.3"/>
<polyline points="248,1716.4 248,1829.4"/>
<polyline points="362.7,1716 362.7,1794"/>
<polyline points="478.5,1716 478.5,1789.4"/>
<polyline points="80,1782.3 190.5,1782.3"/>
<polyline points="80,1832.6 197.6,1832.6"/>
<polyline points="80,2099 128,2099 178.8,2141.3"/>
<polyline points="80,2157.3 123.3,2157.3"/>
<polyline points="666.6,2029.3 666.6,2141"/>
<polyline points="799.8,1857.6 799.8,2141"/>
<polyline points="906,1917.3 906,2141"/>
<polyline points="1035.5,1782.2 1035.5,2141"/>
<polyline points="1098,1900.8 1098,2141"/>
<polyline points="1220.8,1859.9 1220.8,2141"/>
<polyline points="1358.7,1772.8 1358.7,2141"/>
<polyline points="1417.5,1794 1417.5,2141"/>
<polyline points="1594.3,1589.3 1620,1620 1620,1779.6"/>
<polyline points="1670,1569 1670,1779.6"/>
<polyline points="1829.8,1512.9 1829.8,1679.2"/>
<polyline points="1993.8,1438.8 1993.8,1605"/>
<polyline points="2063.6,1412.5 2063.6,1577.1"/>
</g><g font-family="Liberation Sans" font-size="42.5" fill="#22190c" text-anchor="middle" stroke="#22190c" stroke-width="0.7">
<text transform="translate(258.5,962) scale(0.8,1)">7</text>
<text transform="translate(250,1046) scale(0.8,1)">13</text>
<text transform="translate(258.5,1091) scale(0.8,1)">9</text>
<text transform="translate(258.5,1237) scale(0.8,1)">8</text>
<text transform="translate(250,1423) scale(0.8,1)">10</text>
<text transform="translate(250,1601) scale(0.8,1)">15</text>
<text transform="translate(956,955) scale(0.8,1)">14</text>
<text transform="translate(953,1078.5) scale(0.8,1)">13</text>
<text transform="translate(953,1134) scale(0.8,1)">18</text>
<text transform="translate(1143.5,955) scale(0.8,1)">21</text>
<text transform="translate(1436,955) scale(0.8,1)">25</text>
<text transform="translate(1532,955) scale(0.8,1)">28</text>
<text transform="translate(248,1706) scale(0.8,1)">5</text>
<text transform="translate(363,1706) scale(0.8,1)">6</text>
<text transform="translate(479,1706) scale(0.8,1)">11</text>
<text transform="translate(63.5,1798.5) scale(0.8,1)">3</text>
<text transform="translate(63.5,1849) scale(0.8,1)">4</text>
<text transform="translate(63.5,2115) scale(0.8,1)">2</text>
<text transform="translate(63.5,2174) scale(0.8,1)">1</text>
<text transform="translate(668,2183.5) scale(0.8,1)">12</text>
<text transform="translate(801,2183.5) scale(0.8,1)">16</text>
<text transform="translate(907,2183.5) scale(0.8,1)">17</text>
<text transform="translate(1035,2183.5) scale(0.8,1)">20</text>
<text transform="translate(1099,2183.5) scale(0.8,1)">19</text>
<text transform="translate(1220,2183.5) scale(0.8,1)">22</text>
<text transform="translate(1359,2183.5) scale(0.8,1)">23</text>
<text transform="translate(1418,2183.5) scale(0.8,1)">24</text>
<text transform="translate(1620,1828) scale(0.8,1)">26</text>
<text transform="translate(1670,1828) scale(0.8,1)">27</text>
<text transform="translate(1830.5,1726) scale(0.8,1)">29</text>
<text transform="translate(1993.5,1652) scale(0.8,1)">30</text>
<text transform="translate(2062,1624) scale(0.8,1)">31</text>
</g></svg>
</body></html>
